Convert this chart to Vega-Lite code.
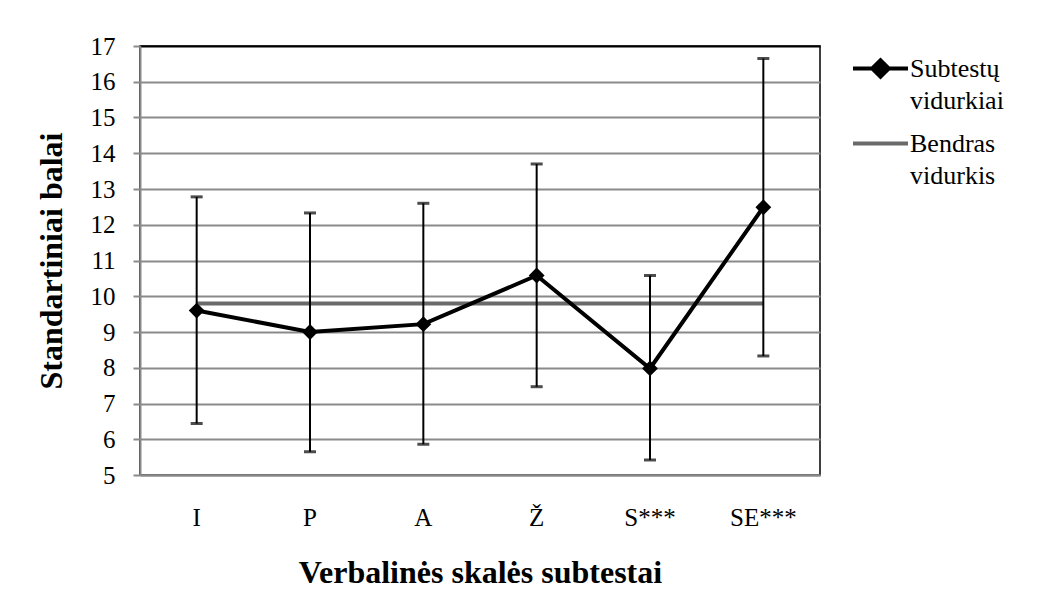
{
  "$schema": "https://vega.github.io/schema/vega-lite/v6.json",
  "autosize": "none",
  "width": 680,
  "height": 429,
  "padding": {"left": 140, "top": 46, "right": 238, "bottom": 119},
  "background": "white",
  "config": {
    "font": "Liberation Serif",
    "view": {"stroke": "black", "strokeWidth": 1.5},
    "axisX": {"labelFont": "Liberation Serif", "labelFontSize": 25, "labelColor": "black", "labelAngle": 0, "labelPadding": 30, "ticks": false, "grid": false, "domainColor": "#8a8a8a", "domainWidth": 2, "titleFont": "Liberation Serif", "titleFontSize": 32, "titleFontWeight": "bold", "titleColor": "black", "titlePadding": 27},
    "axisY": {"labelFont": "Liberation Serif", "labelFontSize": 25, "labelColor": "black", "labelOverlap": false, "labelPadding": 18, "tickSize": 7, "tickColor": "#8a8a8a", "tickWidth": 2, "tickCount": 12, "tickMinStep": 1, "domainColor": "#8a8a8a", "domainWidth": 2, "gridWidth": 2, "titleFont": "Liberation Serif", "titleFontSize": 32, "titleFontWeight": "bold", "titleColor": "black", "titlePadding": 22},
    "legend": {"labelFont": "Liberation Serif", "labelFontSize": 26, "labelColor": "black"}
  },
  "data": {"values": [
    {"k": "I", "m": 9.6, "lo": 6.44, "hi": 12.78, "b": 9.8},
    {"k": "P", "m": 9.0, "lo": 5.65, "hi": 12.33, "b": 9.8},
    {"k": "A", "m": 9.22, "lo": 5.86, "hi": 12.6, "b": 9.8},
    {"k": "Ž", "m": 10.58, "lo": 7.47, "hi": 13.7, "b": 9.8},
    {"k": "S***", "m": 7.98, "lo": 5.42, "hi": 10.58, "b": 9.8},
    {"k": "SE***", "m": 12.49, "lo": 8.33, "hi": 16.65, "b": 9.8}
  ]},
  "layer": [
    {
      "mark": {"type": "line", "strokeWidth": 4},
      "encoding": {
        "x": {
          "field": "k", "type": "nominal", "sort": null,
          "scale": {"paddingInner": 0, "paddingOuter": 0},
          "axis": {"title": "Verbalinės skalės subtestai"}
        },
        "y": {
          "field": "b", "type": "quantitative",
          "scale": {"domain": [5, 17], "nice": false, "zero": false},
          "axis": {
            "title": "Standartiniai balai", "tickCount": 12, "labelOverlap": false,
            "gridColor": {"condition": {"test": "datum.value == 17", "value": "black"}, "value": "#8a8a8a"}
          }
        },
        "color": {
          "datum": "Bendras vidurkis",
          "scale": {"domain": ["Subtestų vidurkiai", "Bendras vidurkis"], "range": ["black", "#6a6a6a"]},
          "legend": {
            "title": null,
            "orient": "right",
            "offset": 38,
            "padding": -7,
            "labelExpr": "split(datum.label, ' ')",
            "labelOffset": 0,
            "symbolSize": 3025,
            "symbolStrokeWidth": 4,
            "rowPadding": -21,
            "encode": {
              "symbols": {"update": {
                "shape": {"signal": "datum.value === 'Subtestų vidurkiai' ? 'M-1,0H1M-0.3,0L0,-0.3L0.3,0L0,0.3Z' : 'M-1,0H1'"},
                "fill": {"signal": "datum.value === 'Subtestų vidurkiai' ? 'black' : 'transparent'"},
                "strokeWidth": {"value": 4}
              }},
              "labels": {"update": {
                "lineHeight": {"value": 32}
              }}
            }
          }
        }
      }
    },
    {
      "mark": {"type": "rule", "color": "black", "strokeWidth": 2},
      "encoding": {
        "x": {"field": "k", "type": "nominal", "sort": null},
        "y": {"field": "lo", "type": "quantitative"},
        "y2": {"field": "hi"}
      }
    },
    {
      "mark": {"type": "tick", "color": "black", "size": 12, "thickness": 3, "orient": "horizontal"},
      "encoding": {
        "x": {"field": "k", "type": "nominal", "sort": null},
        "y": {"field": "lo", "type": "quantitative"}
      }
    },
    {
      "mark": {"type": "tick", "color": "black", "size": 12, "thickness": 3, "orient": "horizontal"},
      "encoding": {
        "x": {"field": "k", "type": "nominal", "sort": null},
        "y": {"field": "hi", "type": "quantitative"}
      }
    },
    {
      "mark": {"type": "line", "strokeWidth": 4, "point": {"shape": "diamond", "size": 250, "filled": true, "opacity": 1}},
      "encoding": {
        "x": {"field": "k", "type": "nominal", "sort": null},
        "y": {"field": "m", "type": "quantitative"},
        "color": {"datum": "Subtestų vidurkiai"}
      }
    }
  ]
}
